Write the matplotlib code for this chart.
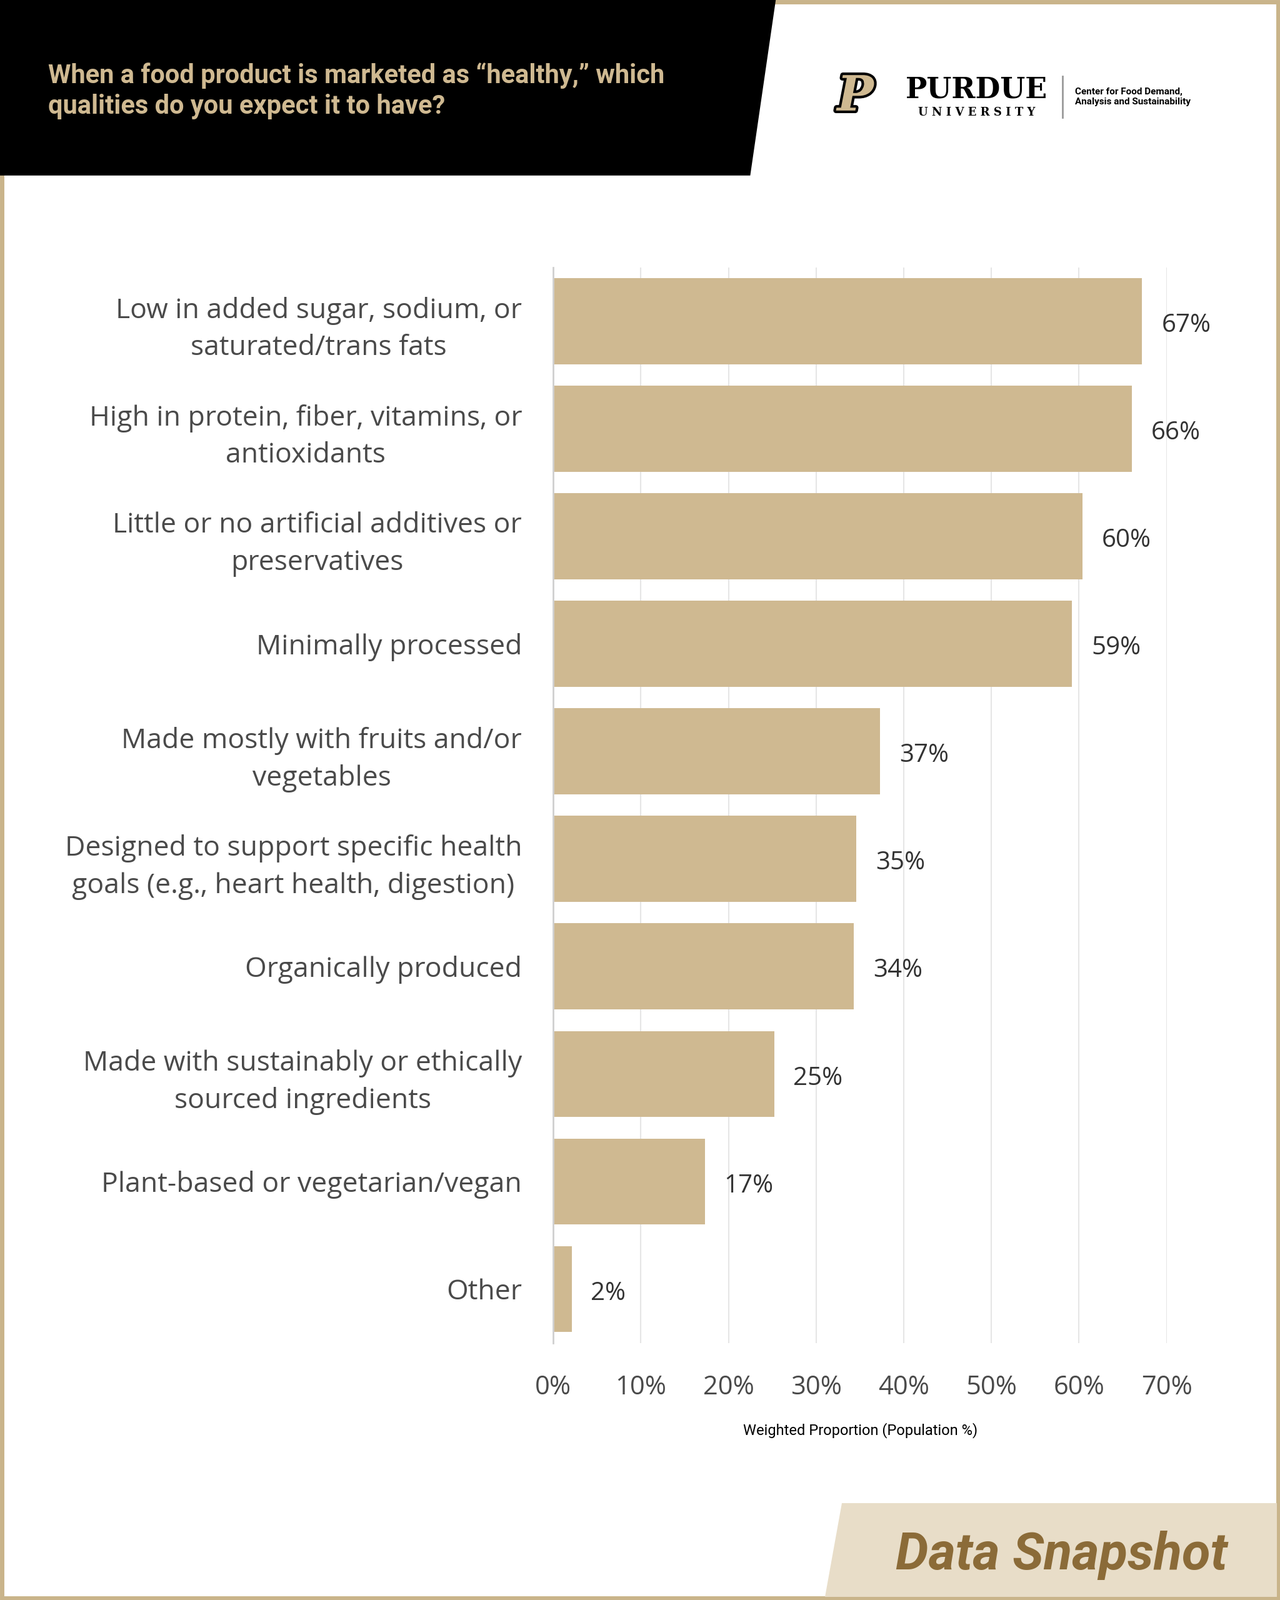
import matplotlib
matplotlib.use("Agg")
import matplotlib.pyplot as plt
from matplotlib.patches import Polygon, Rectangle
import matplotlib.patheffects as pe

# ── data ─────────────────────────────────────────────────────────────────────
categories = [
    "Low in added sugar, sodium, or\nsaturated/trans fats",
    "High in protein, fiber, vitamins, or\nantioxidants",
    "Little or no artificial additives or\npreservatives",
    "Minimally processed",
    "Made mostly with fruits and/or\nvegetables",
    "Designed to support specific health\ngoals (e.g., heart health, digestion)",
    "Organically produced",
    "Made with sustainably or ethically\nsourced ingredients",
    "Plant-based or vegetarian/vegan",
    "Other",
]
values = [67.2, 66.0, 60.4, 59.2, 37.3, 34.6, 34.3, 25.2, 17.3, 2.1]
value_labels = ["67%", "66%", "60%", "59%", "37%", "35%", "34%", "25%", "17%", "2%"]
xticks = [0, 10, 20, 30, 40, 50, 60, 70]

TAN = "#CFB991"
DARK = "#4A4A4A"
W, H = 1254.0, 1568.0   # reference layout units

def fx(x): return x / W
def fy(y): return 1 - y / H

fig = plt.figure(figsize=(20.48, 25.6), dpi=100)
fig.patch.set_facecolor("white")

# ── frame, header, footer (figure-level overlay) ────────────────────────────
ov = fig.add_axes([0, 0, 1, 1], zorder=0)
ov.set_xlim(0, W); ov.set_ylim(H, 0); ov.axis("off")
ov.add_patch(Rectangle((2, 2), W - 4, H - 4, fill=False, ec="#C9B48A", lw=5))
ov.add_patch(Polygon([(0, 0), (760, 0), (735, 172), (0, 172)], closed=True, fc="black", ec="none"))
ov.text(47, 89, "When a food product is marketed as \u201chealthy,\u201d which\nqualities do you expect it to have?",
        color=TAN, fontsize=30, fontweight="bold", fontfamily="Roboto",
        ha="left", va="center", linespacing=1.25)

# logo
ov.text(838, 95, "P", fontsize=56, fontweight="bold", fontstyle="italic", fontfamily="DejaVu Serif",
        color=TAN, ha="center", va="center",
        path_effects=[pe.withStroke(linewidth=6, foreground="black")])
ov.text(957, 88, "PURDUE", fontsize=33, fontweight="bold", fontfamily="DejaVu Serif",
        color="black", ha="center", va="center")
ov.text(957, 110, "U N I V E R S I T Y", fontsize=13, fontweight="bold", fontfamily="DejaVu Serif",
        color="black", ha="center", va="center")
ov.plot([1041, 1041], [75, 115], color="#999999", lw=2)
ov.text(1053, 95, "Center for Food Demand,\nAnalysis and Sustainability", fontsize=11,
        fontweight="bold", fontfamily="Roboto",
        color="black", ha="left", va="center", linespacing=1.2)

# footer
ov.add_patch(Polygon([(825, 1473), (W - 3, 1473), (W - 3, H - 3), (808, H - 3)], closed=True,
                     fc="#E8DDC8", ec="none"))
ov.text(1040, 1524, "Data Snapshot", fontsize=60, fontweight="bold", fontstyle="italic",
        fontfamily="Roboto", color="#8B6B38",
        ha="center", va="center")

# ── bar chart ────────────────────────────────────────────────────────────────
ax = fig.add_axes([fx(542), fy(1316), fx(1143) - fx(542), fy(262) - fy(1316)], zorder=1)
ax.patch.set_alpha(0)
y = list(range(len(categories)))
ax.barh(y, values, height=0.8, color=TAN, zorder=2)
ax.set_ylim(len(categories) - 0.5, -0.5)
ax.set_xlim(0, 70)
for yi, v, lab in zip(y, values, value_labels):
    ax.text(v + 2.2, yi + 0.04, lab, fontsize=29, color="#333333", fontfamily="Open Sans",
            ha="left", va="center", clip_on=False)

ax.set_yticks(y)
ax.set_yticklabels(categories, fontsize=32, color=DARK, fontfamily="Open Sans", linespacing=1.45)
for t in ax.get_yticklabels():
    t.set_multialignment("center")
ax.tick_params(axis="y", length=0, pad=36)
ax.set_xticks(xticks)
ax.set_xticklabels([f"{t}%" for t in xticks], fontsize=30, color=DARK, fontfamily="Open Sans")
ax.tick_params(axis="x", length=0, pad=36)
ax.grid(axis="x", color="#E6E6E6", lw=1.5, zorder=0)
for s in ["top", "right", "bottom"]:
    ax.spines[s].set_visible(False)
ax.spines["left"].set_color("#D0D0D0")
ax.spines["left"].set_linewidth(2)
ax.set_xlabel("Weighted Proportion (Population %)", fontsize=17, color="black",
              fontfamily="Roboto")
ax.xaxis.set_label_coords((843 - 542) / (1143 - 542), -(1394 - 1316) / (1316 - 262))

fig.savefig("out.png", dpi=100, facecolor="white")
